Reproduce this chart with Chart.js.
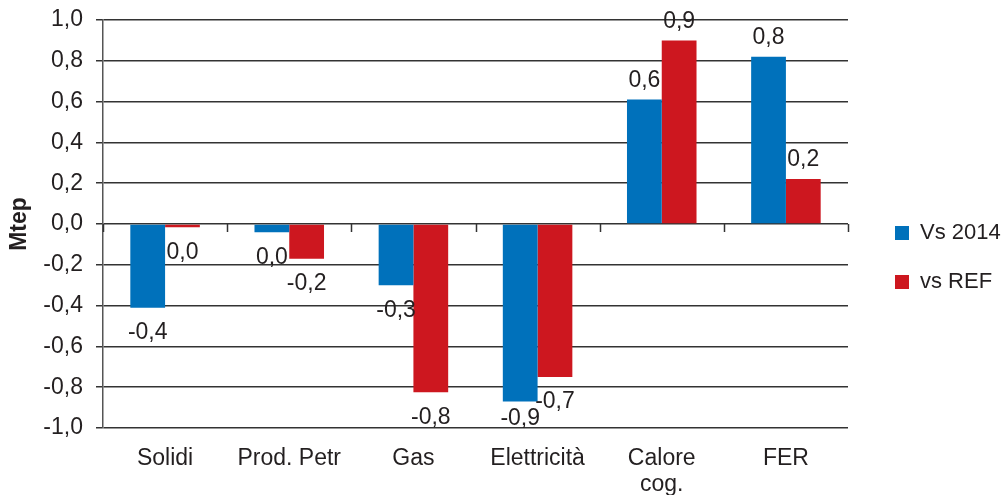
<!DOCTYPE html>
<html><head><meta charset="utf-8">
<script src="https://cdn.jsdelivr.net/npm/chart.js@4.4.1/dist/chart.umd.min.js"></script>
<style>html,body{margin:0;padding:0;background:#fff;}</style>
</head><body>
<canvas id="c" width="1003" height="495"></canvas>
<script>
const categories = ['Solidi', 'Prod. Petr', 'Gas', 'Elettricità', ['Calore', 'cog.'], 'FER'];
const seriesNames = ['Vs 2014', 'vs REF'];
const vs2014 = [-0.41, -0.04, -0.30, -0.87, 0.61, 0.82];
const vsREF = [-0.016, -0.17, -0.825, -0.75, 0.90, 0.22];
const vs2014Labels = ['-0,4', '0,0', '-0,3', '-0,9', '0,6', '0,8'];
const vsREFLabels = ['0,0', '-0,2', '-0,8', '-0,7', '0,9', '0,2'];
const yTicks = [-1.0, -0.8, -0.6, -0.4, -0.2, 0.0, 0.2, 0.4, 0.6, 0.8, 1.0];
const yTitle = 'Mtep';

const textColor = '#231F20';
const gridColor = '#333333';
const FONT = "'Liberation Sans', Arial, sans-serif";
Chart.defaults.font.family = FONT;
Chart.defaults.font.size = 23;
Chart.defaults.color = textColor;

const valueLabels = {
  id: 'valueLabels',
  afterDatasetsDraw(chart) {
    const ctx = chart.ctx;
    const area = chart.chartArea;
    const lbls = [vs2014Labels, vsREFLabels];
    ctx.save();
    ctx.font = "23px " + FONT;
    ctx.fillStyle = textColor;
    ctx.textAlign = 'center';
    ctx.textBaseline = 'middle';
    chart.data.datasets.forEach((ds, di) => {
      const meta = chart.getDatasetMeta(di);
      meta.data.forEach((el, i) => {
        const v = ds.data[i];
        let y;
        if (v >= 0) y = el.y - 19;
        else y = Math.min(el.y + 25, area.bottom - 9);
        ctx.fillText(lbls[di][i], el.x, y);
      });
    });
    ctx.restore();
  }
};

const zeroTicks = {
  id: 'zeroTicks',
  afterDraw(chart) {
    const x = chart.scales.x, y = chart.scales.y;
    const ctx = chart.ctx;
    const y0 = y.getPixelForValue(0);
    ctx.save();
    ctx.strokeStyle = gridColor;
    ctx.lineWidth = 1.5;
    for (let i = 0; i <= categories.length; i++) {
      const px = Math.round(x.getPixelForValue(i - 0.5)) + 0.5;
      ctx.beginPath();
      ctx.moveTo(px, y0);
      ctx.lineTo(px, y0 + 8);
      ctx.stroke();
    }
    ctx.restore();
  }
};

new Chart(document.getElementById('c'), {
  type: 'bar',
  data: {
    labels: categories,
    datasets: [
      { label: seriesNames[0], data: vs2014, backgroundColor: '#0071BB', borderWidth: 0, categoryPercentage: 0.56, barPercentage: 1.0 },
      { label: seriesNames[1], data: vsREF, backgroundColor: '#CD171F', borderWidth: 0, categoryPercentage: 0.56, barPercentage: 1.0 }
    ]
  },
  options: {
    responsive: false,
    animation: false,
    layout: { padding: { top: 20, left: 0, right: 0, bottom: 0 } },
    plugins: {
      legend: {
        position: 'right',
        maxWidth: 135,
        labels: { boxWidth: 14, boxHeight: 14, padding: 27, color: textColor, font: { size: 22 } }
      },
      tooltip: { enabled: false }
    },
    scales: {
      x: {
        grid: { display: false, drawTicks: false },
        border: { display: false },
        ticks: { padding: 17, color: textColor, font: { size: 23, lineHeight: 1.15 }, maxRotation: 0, autoSkip: false },
        afterFit(s) { s.height = 67; }
      },
      y: {
        min: -1, max: 1,
        afterBuildTicks(s) { s.ticks = yTicks.map(v => ({ value: v })); },
        grid: { color: gridColor, lineWidth: 1.5, tickLength: 7 },
        border: { display: true, color: '#555', width: 1.5 },
        ticks: {
          padding: 13, color: textColor, font: { size: 23 },
          callback(v) { if (Math.abs(v) < 1e-9) v = 0; return v.toFixed(1).replace('.', ','); }
        },
        title: { display: true, text: yTitle, color: textColor, font: { size: 23, weight: 'bold' }, padding: { top: 6, bottom: 0 } },
        afterFit(s) { s.width = 103; s.paddingTop = 0; s.paddingBottom = 0; }
      },
      yR: {
        position: 'right',
        display: true,
        grid: { display: false, drawOnChartArea: false, drawTicks: false },
        border: { display: false },
        ticks: { display: false },
        afterFit(s) { s.width = 20; s.paddingTop = 0; s.paddingBottom = 0; }
      }
    }
  },
  plugins: [valueLabels, zeroTicks]
});
</script>
</body></html>
